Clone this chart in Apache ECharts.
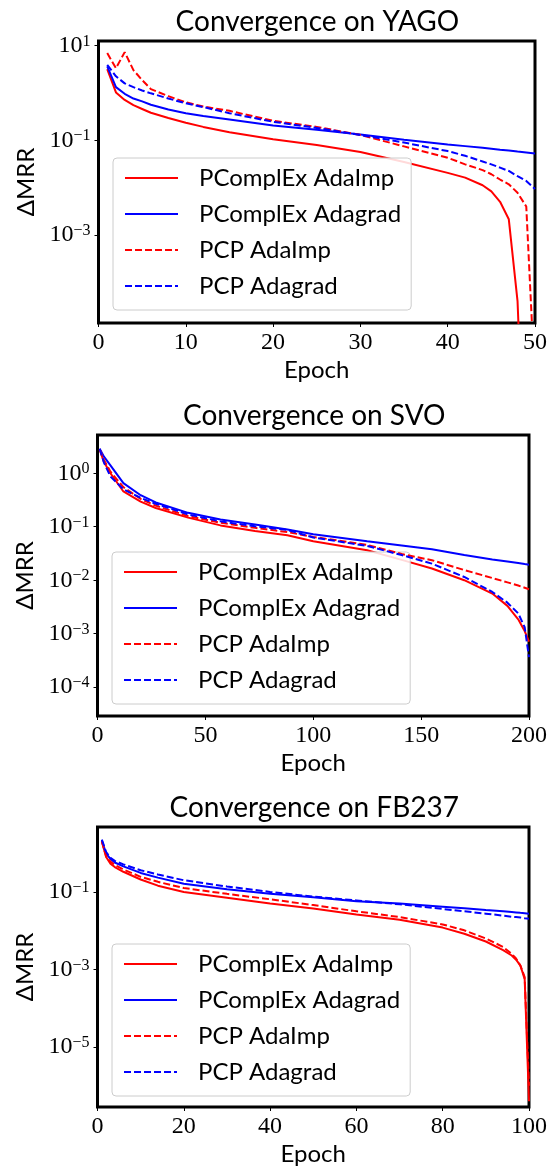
<!DOCTYPE html>
<html>
<head>
<meta charset="utf-8">
<script src="https://cdn.jsdelivr.net/npm/echarts@6.0.0/dist/echarts.min.js"></script>
<style>
  html, body { margin: 0; padding: 0; background: #fff; }
  #chart { width: 550px; height: 1167px; }
</style>
</head>
<body>
<div id="chart"></div>
<script>
var seriesNames = ['PComplEx AdaImp', 'PComplEx Adagrad', 'PCP AdaImp', 'PCP Adagrad'];

// YAGO
var yagoEpochs = [1, 2, 3, 4, 5, 6, 8, 10, 12, 15, 20, 25, 30, 35, 40, 42, 44, 45, 46, 47, 48, 49, 50];
var yagoComplexAdaImp = [3.16, 1.02, 0.708, 0.55, 0.457, 0.38, 0.295, 0.234, 0.191, 0.148, 0.105, 0.0794, 0.0562, 0.0347, 0.0204, 0.0162, 0.0112, 0.00832, 0.00501, 0.00214, 0.0000398, 1e-9, null];
var yagoComplexAdagrad = [3.63, 1.32, 0.955, 0.759, 0.661, 0.562, 0.447, 0.372, 0.324, 0.275, 0.204, 0.166, 0.132, 0.102, 0.0813, 0.075, 0.0692, 0.0661, 0.0631, 0.0603, 0.0575, 0.055, 0.0525];
var yagoPcpAdaImp = [6.92, 3.31, 7.24, 3.02, 1.86, 1.2, 0.851, 0.631, 0.513, 0.417, 0.257, 0.191, 0.129, 0.0741, 0.0427, 0.0309, 0.0234, 0.0191, 0.0148, 0.0117, 0.00776, 0.00398, 6.3e-7];
var yagoPcpAdagrad = [3.89, 2.24, 1.585, 1.318, 1.122, 0.977, 0.759, 0.603, 0.501, 0.372, 0.245, 0.182, 0.129, 0.0891, 0.0589, 0.0468, 0.0355, 0.0309, 0.0263, 0.0224, 0.0174, 0.0138, 0.00933];
var yagoXTicks = [0, 10, 20, 30, 40, 50];
var yagoYTicks = [10, 0.1, 0.001];

// SVO
var svoEpochs = [1, 3, 6, 12, 20, 27, 42, 57, 73, 88, 100, 125, 141, 155, 170, 183, 190, 195, 198, 200];
var svoComplexAdaImp = [2.75, 1.62, 1.0, 0.457, 0.295, 0.224, 0.148, 0.106, 0.0832, 0.0692, 0.0537, 0.0363, 0.024, 0.0166, 0.01, 0.00562, 0.00331, 0.00186, 0.00112, 0.000708];
var svoComplexAdagrad = [2.88, 2.04, 1.41, 0.653, 0.389, 0.285, 0.182, 0.136, 0.11, 0.0891, 0.0724, 0.0537, 0.0447, 0.038, 0.0295, 0.0245, 0.0224, 0.0209, 0.02, 0.0195];
var svoPcpAdaImp = [2.82, 1.78, 1.07, 0.55, 0.331, 0.248, 0.158, 0.119, 0.0955, 0.0794, 0.0646, 0.0457, 0.0309, 0.0237, 0.0155, 0.011, 0.00912, 0.00794, 0.00724, 0.00676];
var svoPcpAdagrad = [2.88, 1.585, 0.871, 0.501, 0.347, 0.269, 0.17, 0.126, 0.102, 0.0871, 0.0631, 0.0437, 0.0295, 0.0204, 0.0115, 0.00603, 0.0038, 0.0024, 0.00132, 0.000363];
var svoXTicks = [0, 50, 100, 150, 200];
var svoYTicks = [1, 0.1, 0.01, 0.001, 0.0001];

// FB237
var fbEpochs = [1, 2, 3, 4, 6, 10, 14, 20, 30, 40, 50, 60, 70, 80, 85, 90, 94, 96, 97, 98, 99, 100];
var fbComplexAdaImp = [1.995, 0.794, 0.537, 0.437, 0.331, 0.209, 0.145, 0.1, 0.0708, 0.0501, 0.0372, 0.0263, 0.0191, 0.012, 0.00832, 0.00525, 0.00316, 0.00229, 0.00178, 0.00126, 0.000562, 3.98e-7];
var fbComplexAdagrad = [2.14, 0.977, 0.708, 0.575, 0.457, 0.309, 0.234, 0.162, 0.117, 0.0891, 0.0724, 0.0575, 0.0501, 0.0417, 0.038, 0.0339, 0.0316, 0.0302, 0.0295, 0.0288, 0.0282, 0.0275];
var fbPcpAdaImp = [2.04, 0.832, 0.603, 0.501, 0.38, 0.245, 0.182, 0.126, 0.0891, 0.0646, 0.0457, 0.0316, 0.0224, 0.0145, 0.0102, 0.0063, 0.0038, 0.00251, 0.00191, 0.00126, 0.000631, 1e-6];
var fbPcpAdagrad = [2.24, 1.07, 0.759, 0.631, 0.513, 0.363, 0.282, 0.2, 0.138, 0.1, 0.0759, 0.0603, 0.0479, 0.0363, 0.0316, 0.0275, 0.0245, 0.0229, 0.0224, 0.0219, 0.0209, 0.0204];
var fbXTicks = [0, 20, 40, 60, 80, 100];
var fbYTicks = [0.1, 0.001, 0.00001];

var SANS = 'Lato';
var SERIF = 'Liberation Serif';
var colors = ['#ff0000', '#0000ff', '#ff0000', '#0000ff'];
var dashes = ['solid', 'solid', [7, 3], [7, 3]];

// one panel per dataset
var panels = [
  { title: 'Convergence on YAGO', top: 41, height: 282, left: 98.5, right: 13.7,
    epochs: yagoEpochs, data: [yagoComplexAdaImp, yagoComplexAdagrad, yagoPcpAdaImp, yagoPcpAdagrad],
    xTicks: yagoXTicks, yTicks: yagoYTicks, yMin: -4.86, yMax: 1.095 },
  { title: 'Convergence on SVO', top: 435, height: 281, left: 97.5, right: 19,
    epochs: svoEpochs, data: [svoComplexAdaImp, svoComplexAdagrad, svoPcpAdaImp, svoPcpAdagrad],
    xTicks: svoXTicks, yTicks: svoYTicks, yMin: -4.54, yMax: 0.716 },
  { title: 'Convergence on FB237', top: 827, height: 280, left: 97.5, right: 19,
    epochs: fbEpochs, data: [fbComplexAdaImp, fbComplexAdagrad, fbPcpAdaImp, fbPcpAdagrad],
    xTicks: fbXTicks, yTicks: fbYTicks, yMin: -6.55, yMax: 0.675 }
];

function powLabel(v) {
  var e = Math.round(Math.log(v) / Math.LN10);
  return '{b|10}{s|' + (e < 0 ? '\u2212' + (-e) : e) + '}';
}

var option = { animation: false, title: [], grid: [], xAxis: [], yAxis: [], legend: [], series: [] };

panels.forEach(function(p, i) {
  var plotW = 550 - p.left - p.right;
  option.title.push({
    text: p.title,
    left: p.left + plotW / 2,
    textAlign: 'center',
    top: p.top - 33,
    padding: 0,
    textStyle: { fontFamily: SANS, fontSize: 28, fontWeight: 'normal', color: '#000' }
  });
  option.grid.push({
    left: p.left, right: p.right, top: p.top, height: p.height,
    show: true, borderColor: '#000', borderWidth: 3, backgroundColor: 'transparent'
  });
  option.xAxis.push({
    type: 'value', gridIndex: i,
    min: p.xTicks[0], max: p.xTicks[p.xTicks.length - 1],
    interval: p.xTicks[1] - p.xTicks[0],
    name: 'Epoch', nameLocation: 'middle', nameGap: 35,
    nameTextStyle: { fontFamily: SANS, fontSize: 24, color: '#000' },
    axisLine: { show: false },
    axisTick: { show: true, length: 4, lineStyle: { color: '#000', width: 1 } },
    splitLine: { show: false },
    axisLabel: { fontFamily: SERIF, fontSize: 24, color: '#000', margin: 8 }
  });
  option.yAxis.push({
    type: 'log', gridIndex: i, logBase: 10,
    min: Math.pow(10, p.yMin), max: Math.pow(10, p.yMax),
    name: '\u0394MRR', nameLocation: 'middle', nameGap: 60,
    nameTextStyle: { fontFamily: SANS, fontSize: 24, color: '#000' },
    axisLine: { show: false },
    axisTick: { show: true, length: 4, customValues: p.yTicks, lineStyle: { color: '#000', width: 1 } },
    splitLine: { show: false },
    minorTick: { show: false },
    axisLabel: {
      customValues: p.yTicks,
      margin: 8,
      formatter: powLabel,
      rich: {
        b: { fontFamily: SERIF, fontSize: 24, lineHeight: 24, color: '#000', padding: [5, 0, 0, 0], verticalAlign: 'bottom' },
        s: { fontFamily: SERIF, fontSize: 16, lineHeight: 20, color: '#000', verticalAlign: 'top' }
      }
    }
  });
  option.legend.push({
    data: seriesNames,
    orient: 'vertical',
    left: p.left + 14.5,
    top: p.top + 117,
    padding: [8, 10, 12, 11],
    itemWidth: 53,
    itemHeight: 14,
    itemGap: 12,
    itemStyle: { opacity: 0 },
    backgroundColor: 'rgba(255,255,255,0.85)',
    borderColor: '#cccccc',
    borderWidth: 1,
    borderRadius: 4,
    selectedMode: false,
    textStyle: { fontFamily: SANS, fontSize: 24, lineHeight: 24, color: '#000', padding: [0, 0, 0, 16] }
  });
  for (var k = 0; k < 4; k++) {
    var vals = p.data[k];
    option.series.push({
      name: seriesNames[k],
      type: 'line',
      xAxisIndex: i, yAxisIndex: i,
      data: p.epochs.map(function(e, j) { return [e, vals[j]]; }),
      symbol: 'none',
      showSymbol: false,
      clip: true,
      color: colors[k],
      lineStyle: { width: 2, color: colors[k], type: dashes[k] },
      z: 2 + k
    });
  }
});

var myChart = echarts.init(document.getElementById('chart'));
myChart.setOption(option);
</script>
</body>
</html>
